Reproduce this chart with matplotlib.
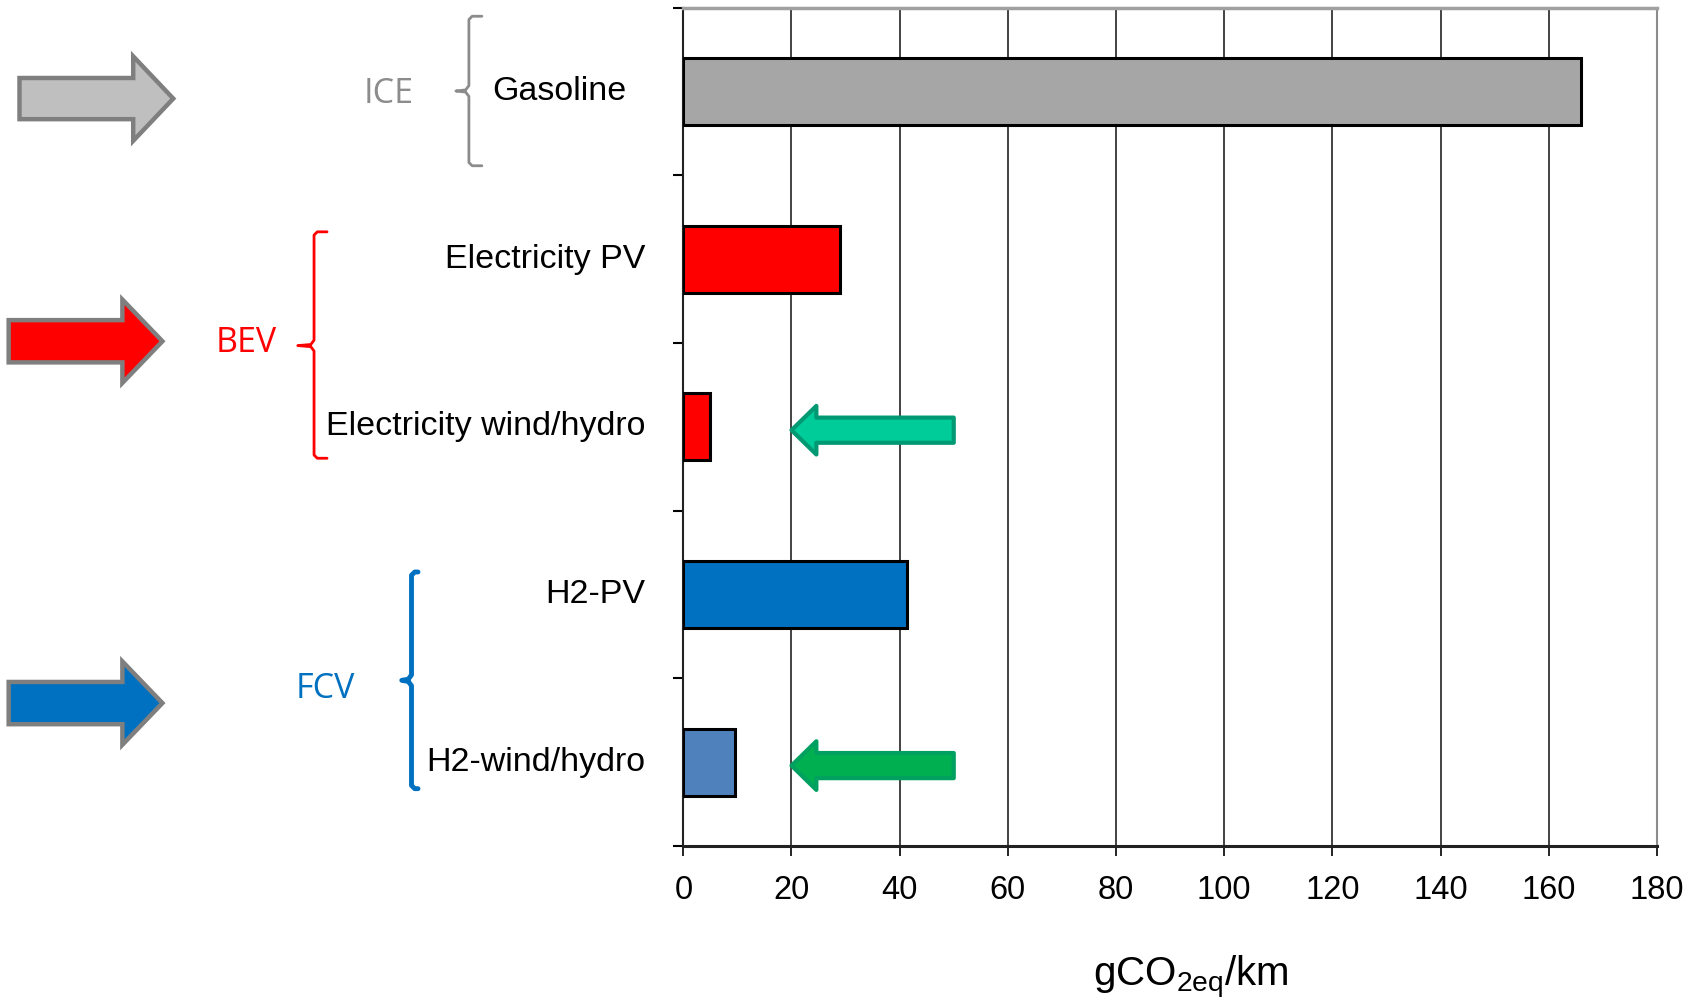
import matplotlib
matplotlib.use("Agg")
import matplotlib.pyplot as plt
from matplotlib.patches import FancyArrow
from matplotlib.lines import Line2D

# ---------------- data ----------------
categories = ["Gasoline", "Electricity PV", "Electricity wind/hydro", "H2-PV", "H2-wind/hydro"]
values = [166, 29, 5, 41.4, 9.6]
bar_colors = ["#A6A6A6", "#FF0000", "#FF0000", "#0070C0", "#4F81BD"]
groups = ["ICE", "BEV", "FCV"]
group_colors = ["#8C8C8C", "#FF0000", "#0070C0"]
arrow_fills = ["#BFBFBF", "#FF0000", "#0070C0"]
xticks = [0, 20, 40, 60, 80, 100, 120, 140, 160, 180]
xlabel = "gCO$_{2eq}$/km"
highlight_rows = [2, 4]
highlight_fills = ["#00CC99", "#00B050"]
highlight_edges = ["#009973", "#00A060"]

plt.rcParams["font.family"] = ["Liberation Sans", "DejaVu Sans"]
plt.rcParams["mathtext.fontset"] = "custom"
plt.rcParams["mathtext.rm"] = "Liberation Sans"
plt.rcParams["mathtext.it"] = "Liberation Sans"

W, H = 1568.0, 924.0  # reference layout units
def fx(x): return x / W
def fy(y): return 1 - y / H

fig = plt.figure(figsize=(16.98, 10.01), dpi=100)
ax = fig.add_axes([fx(631), fy(781), fx(1530) - fx(631), fy(7) - fy(781)])

ypos = list(range(len(categories)))
ax.barh(ypos, values, height=0.4, color=bar_colors, edgecolor="black", linewidth=2.2, zorder=3)
ax.set_xlim(0, 180)
ax.set_ylim(len(categories) - 0.5, -0.5)
ax.set_xticks(xticks)
ax.set_xticklabels([str(t) for t in xticks], fontsize=23.5)
ax.tick_params(axis="x", direction="out", length=7, width=1.2, pad=14)
ax.set_yticks([])
ax.set_yticks([i - 0.5 for i in range(len(categories) + 1)], minor=True)
ax.tick_params(axis="y", which="minor", direction="out", length=7, width=1.5, labelleft=False)
ax.grid(axis="x", color="#222222", linewidth=1.2, zorder=0)
ax.set_axisbelow(True)
ax.spines["top"].set_color("#A0A0A0"); ax.spines["top"].set_linewidth(2.5)
ax.spines["right"].set_color("#8C8C8C"); ax.spines["right"].set_linewidth(1.5)
ax.spines["bottom"].set_color("#222222"); ax.spines["bottom"].set_linewidth(2.2)
ax.spines["left"].set_color("#222222"); ax.spines["left"].set_linewidth(1.5)

# category labels
ytr = ax.get_yaxis_transform()
for i, c in enumerate(categories):
    if i == 0:
        ax.text(-0.196, i, c, transform=ytr, ha="left", va="center", fontsize=24.5, color="black")
    else:
        ax.text(-0.039, i, c, transform=ytr, ha="right", va="center", fontsize=24.5, color="black")

# green highlight arrows (point to low-emission options)
for r, fc, ec in zip(highlight_rows, highlight_fills, highlight_edges):
    arr = FancyArrow(50, r + 0.02, -30, 0, width=0.15, head_width=0.29, head_length=4.6,
                     length_includes_head=True, facecolor=fc, edgecolor=ec, linewidth=3,
                     joinstyle="round", zorder=4)
    ax.add_patch(arr)

# group arrows, labels and braces
arrow_specs = [  # tail x, tip x, center y, head height, shaft height, head length (reference units)
    (18, 160, 91, 78, 38, 37),
    (8, 150, 315, 77, 39, 37),
    (8, 150, 649, 77, 39, 37),
]
for (x0, x1, yc, hh, sh, hl), fc in zip(arrow_specs, arrow_fills):
    a = FancyArrow(fx(x0), fy(yc), fx(x1) - fx(x0), 0, width=sh / H, head_width=hh / H,
                   head_length=hl / W, length_includes_head=True, transform=fig.transFigure,
                   facecolor=fc, edgecolor="#7F7F7F", linewidth=3.2, joinstyle="miter")
    fig.patches.append(a)

label_pos = [(359, 87), (227, 317), (300, 636)]
for g, col, (lx, ly) in zip(groups, group_colors, label_pos):
    fig.text(fx(lx), fy(ly), g, color=col, fontsize=24.5, ha="center", va="center",
             family=["Open Sans", "DejaVu Sans"])

brace_specs = [  # x, top, bottom, tip y, hook x, tip x, lw
    (433, 15, 153, 84, 445, 421, 2.0),
    (290, 214, 423, 319, 302, 275, 2.0),
    (380, 528, 728, 628, 386, 371, 3.5),
]
for (bx, t, b, ty, hx, tx, lw), col in zip(brace_specs, group_colors):
    xs = [hx, bx + 3, bx, bx, bx - 3, tx, bx - 3, bx, bx, bx + 3, hx]
    ys = [t, t, t + 3, ty - 5, ty - 1, ty, ty + 1, ty + 5, b - 3, b, b]
    fig.lines.append(Line2D([fx(v) for v in xs], [fy(v) for v in ys], transform=fig.transFigure,
                            color=col, linewidth=lw, solid_joinstyle="round", solid_capstyle="round"))

fig.text(fx(1100), fy(902), xlabel, fontsize=29, ha="center", va="center")

fig.savefig("out.png", dpi=100)
